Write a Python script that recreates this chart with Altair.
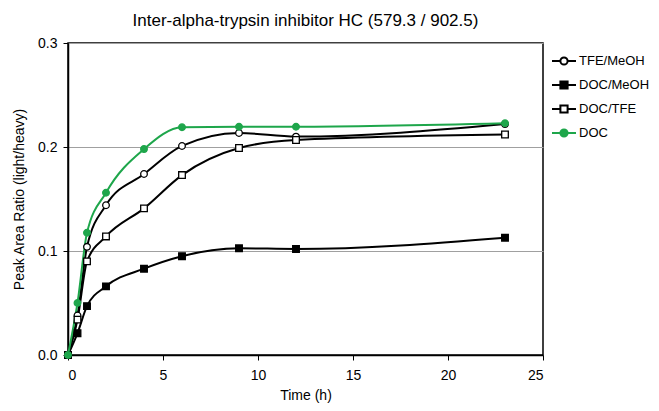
import altair as alt
import pandas as pd

time_h = [0, 0.5, 1, 2, 4, 6, 9, 12, 23]
series_names = ["TFE/MeOH", "DOC/MeOH", "DOC/TFE", "DOC"]
tfe_meoh = [0.0, 0.038, 0.104, 0.144, 0.174, 0.201, 0.2135, 0.210, 0.222]
doc_meoh = [0.0, 0.021, 0.047, 0.066, 0.083, 0.095, 0.1026, 0.102, 0.1128]
doc_tfe = [0.0, 0.034, 0.090, 0.114, 0.141, 0.173, 0.199, 0.2067, 0.212]
doc = [0.0, 0.050, 0.1176, 0.156, 0.198, 0.219, 0.2195, 0.2195, 0.2228]

GREEN = "#1ea64b"
line_colors = ["black", "black", "black", GREEN]
fill_colors = ["white", "black", "white", GREEN]
marker_shapes = ["circle", "square", "square", "circle"]
circ = "M-1,0L-0.3,0M0.3,0L1,0M-0.3,0A0.3,0.3,0,1,1,0.3,0A0.3,0.3,0,1,1,-0.3,0Z"
sq = "M-1,0L-0.3,0M0.3,0L1,0M-0.3,-0.3L0.3,-0.3L0.3,0.3L-0.3,0.3Z"
legend_shapes = [circ, sq, sq, circ]

rows = []
for name, vals in zip(series_names, [tfe_meoh, doc_meoh, doc_tfe, doc]):
    for t, v in zip(time_h, vals):
        rows.append({"time": t, "ratio": v, "series": name})
df = pd.DataFrame(rows)

x_enc = alt.X("time:Q", title="Time (h)",
              scale=alt.Scale(domain=[0, 25], nice=False),
              axis=alt.Axis(values=[0, 5, 10, 15, 20, 25], grid=False, tickSize=5,
                            labelPadding=8, titlePadding=6))
y_enc = alt.Y("ratio:Q", title="Peak Area Ratio (light/heavy)",
              scale=alt.Scale(domain=[0, 0.3], nice=False),
              axis=alt.Axis(values=[0, 0.1, 0.2, 0.3], format=".1f", grid=True,
                            tickSize=5, labelPadding=6, titlePadding=11))

base = alt.Chart(df)

lines = base.mark_line(interpolate="monotone", strokeWidth=2).encode(
    x=x_enc, y=y_enc,
    color=alt.Color("series:N", scale=alt.Scale(domain=series_names, range=line_colors), legend=None),
    detail="series:N",
)

points = base.mark_point(opacity=1, size=44, strokeWidth=1.3).encode(
    x=x_enc, y=y_enc,
    shape=alt.Shape("series:N", scale=alt.Scale(domain=series_names, range=marker_shapes), legend=None),
    fill=alt.Fill("series:N", scale=alt.Scale(domain=series_names, range=fill_colors), legend=None),
    stroke=alt.Stroke("series:N", scale=alt.Scale(domain=series_names, range=line_colors), legend=None),
)

legend_layer = base.mark_point(opacity=1, clip=True, size=576, strokeWidth=2).encode(
    x=alt.value(-80), y=alt.value(-80),
    shape=alt.Shape("series:N", scale=alt.Scale(domain=series_names, range=legend_shapes),
                    legend=alt.Legend(title=None)),
    fill=alt.Fill("series:N", scale=alt.Scale(domain=series_names, range=fill_colors),
                  legend=alt.Legend(title=None)),
    stroke=alt.Stroke("series:N", scale=alt.Scale(domain=series_names, range=line_colors),
                      legend=alt.Legend(title=None)),
)

chart = alt.layer(lines, points, legend_layer).resolve_scale(
    shape="independent", fill="independent", stroke="independent"
).properties(
    width=475, height=312,
    title=alt.TitleParams("Inter-alpha-trypsin inhibitor HC (579.3 / 902.5)",
                          fontSize=17, fontWeight="normal", font="Liberation Sans",
                          anchor="middle", offset=6, color="black"),
    autosize=alt.AutoSizeParams(type="none"),
    padding={"left": 60, "top": 35, "right": 108, "bottom": 48},
).configure(
    font="Liberation Sans",
).configure_view(
    stroke="black", strokeWidth=1.5,
).configure_axis(
    domainColor="black", domainWidth=1.5, tickColor="black", tickWidth=1,
    labelFont="Liberation Sans", labelFontSize=14, labelColor="black",
    titleFont="Liberation Sans", titleFontSize=14, titleFontWeight="normal", titleColor="black",
    gridColor="#a0a0a0", gridWidth=1,
).configure_legend(
    orient="none", legendX=483, legendY=5, labelFontSize=13, labelFont="Liberation Sans",
    labelColor="black", symbolSize=576, symbolStrokeWidth=2, rowPadding=3, labelOffset=2,
    padding=0,
)

chart.save("out.html", embed_options={"renderer": "svg", "actions": False})
